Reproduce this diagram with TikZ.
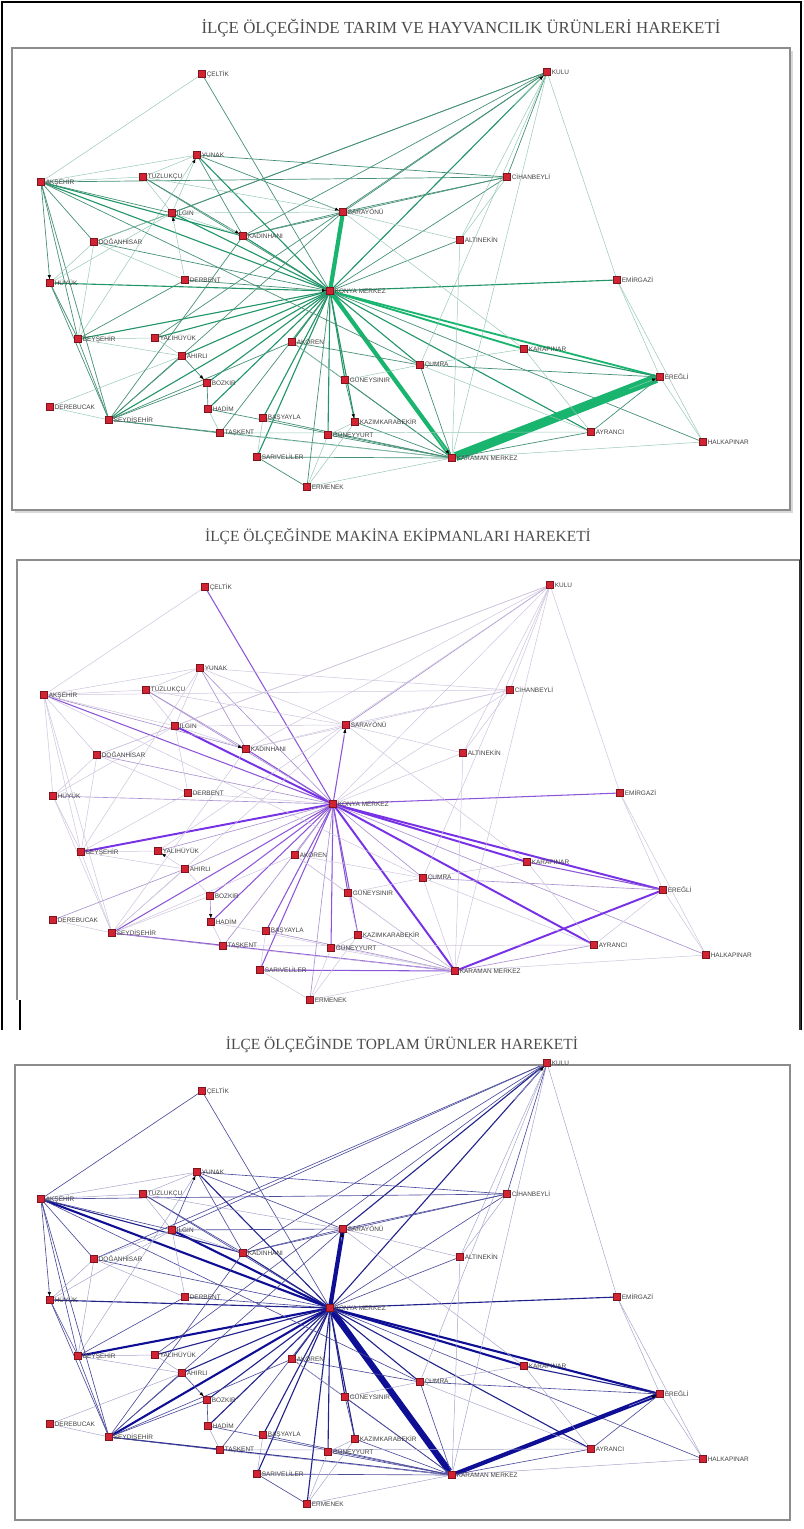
\documentclass[tikz,border=0pt]{standalone}
\usepackage{fontspec}
\setmainfont{Liberation Serif}
\setsansfont{Liberation Sans}
\usetikzlibrary{arrows.meta, calc}

\definecolor{nodered}{RGB}{210,35,50}
\definecolor{yesilA}{RGB}{150,200,182}
\definecolor{yesilB}{RGB}{70,145,118}
\definecolor{yesilC}{RGB}{35,150,105}
\definecolor{yesilD}{RGB}{25,180,110}
\definecolor{morA}{RGB}{205,195,220}
\definecolor{morB}{RGB}{170,145,208}
\definecolor{morC}{RGB}{140,85,215}
\definecolor{morD}{RGB}{120,50,230}
\definecolor{laciA}{RGB}{165,165,205}
\definecolor{laciB}{RGB}{75,75,155}
\definecolor{laciC}{RGB}{35,35,140}
\definecolor{laciD}{RGB}{15,15,150}

\pgfdeclarelayer{bg}
\pgfsetlayers{bg,main}

\def\kulukod{kulu}

% ilce kodu / x / y / ad (piksel, ust panel)
\newcommand{\ilceler}{%
celtik/202/74/ÇELTİK,
kulu/547/72/KULU,
yunak/197/155/YUNAK,
aksehir/41/182/AKŞEHİR,
tuzlukcu/143/177/TUZLUKÇU,
cihanbeyli/507/177/CİHANBEYLİ,
ilgin/172/213/ILGIN,
sarayonu/343/212/SARAYÖNÜ,
kadinhani/243/236/KADINHANI,
altinekin/460/240/ALTINEKİN,
doganhisar/94/242/DOĞANHİSAR,
derbent/185/280/DERBENT,
merkez/330/291/KONYA MERKEZ,
emirgazi/617/280/EMİRGAZİ,
huyuk/50/283/HÜYÜK,
beysehir/78/339/BEYŞEHİR,
yalihuyuk/155/338/YALIHÜYÜK,
ahirli/182/356/AHIRLI,
akoren/292/342/AKÖREN,
bozkir/207/383/BOZKIR,
hadim/208/409/HADİM,
guneysinir/345/380/GÜNEYSINIR,
derebucak/50/407/DEREBUCAK,
seydisehir/109/420/SEYDİŞEHİR,
basyayla/263/418/BAŞYAYLA,
taskent/220/433/TAŞKENT,
kazim/355/422/KAZIMKARABEKİR,
guneyyurt/328/435/GÜNEYYURT,
sariveliler/257/457/SARIVELİLER,
ermenek/307/487/ERMENEK,
karapinar/524/349/KARAPINAR,
cumra/420/365/ÇUMRA,
eregli/660/377/EREĞLİ,
ayranci/591/432/AYRANCI,
halkapinar/703/442/HALKAPINAR,
karaman/452/458/KARAMAN MERKEZ}

% kaynak / hedef / agirlik: tarim / makina / toplam
\newcommand{\baglar}{%
merkez/sarayonu/5/3/5, merkez/karaman/5/4/6, merkez/celtik/2/3/2,
merkez/kulu/3/1/3, merkez/yunak/3/2/3, merkez/aksehir/3/3/4,
merkez/tuzlukcu/2/2/2, merkez/ilgin/3/4/4, merkez/kadinhani/3/3/3,
merkez/cihanbeyli/2/1/2, merkez/altinekin/2/1/2, merkez/doganhisar/2/2/2,
merkez/derbent/2/1/2, merkez/huyuk/3/2/3, merkez/beysehir/3/4/4,
merkez/yalihuyuk/3/2/3, merkez/ahirli/3/2/3, merkez/bozkir/3/3/3,
merkez/akoren/3/2/3, merkez/seydisehir/3/3/4, merkez/taskent/2/2/2,
merkez/basyayla/3/3/3, merkez/sariveliler/3/3/3, merkez/ermenek/2/2/3,
merkez/hadim/3/3/3, merkez/guneysinir/3/3/3, merkez/kazim/3/3/3,
merkez/guneyyurt/3/3/3, merkez/cumra/3/2/3, merkez/karapinar/4/4/4,
merkez/eregli/4/4/4, merkez/ayranci/3/4/3, merkez/emirgazi/3/3/3,
merkez/halkapinar/2/2/2,
karaman/eregli/6/4/5, karaman/ayranci/2/2/2, karaman/halkapinar/1/1/1,
karaman/cumra/2/1/2, karaman/kazim/2/2/2, karaman/guneysinir/2/1/2,
karaman/ermenek/1/1/1, karaman/sariveliler/2/3/2, karaman/basyayla/2/2/2,
karaman/seydisehir/2/3/3, karaman/taskent/1/1/1, karaman/hadim/2/1/2,
karaman/akoren/2/1/2, karaman/kulu/1/1/1, karaman/guneyyurt/2/1/2,
karaman/altinekin/1/1/1,
eregli/karapinar/3/3/3, eregli/cumra/2/2/2, eregli/ayranci/2/1/2,
eregli/halkapinar/1/1/1, eregli/emirgazi/1/1/1,
kulu/cihanbeyli/2/1/2, kulu/sarayonu/2/2/3, kulu/altinekin/1/1/1,
kulu/emirgazi/1/1/1, kulu/cumra/1/1/1, kulu/kadinhani/2/1/2,
kulu/ilgin/2/1/2, kulu/doganhisar/2/1/2, kulu/yalihuyuk/2/1/2,
celtik/aksehir/1/1/2,
yunak/aksehir/1/1/1, yunak/tuzlukcu/1/1/1, yunak/ilgin/1/1/2,
yunak/kadinhani/2/2/2, yunak/cihanbeyli/2/1/2, yunak/sarayonu/2/1/2,
yunak/beysehir/1/1/1,
aksehir/tuzlukcu/1/1/1, aksehir/huyuk/2/1/2, aksehir/doganhisar/2/1/2,
aksehir/beysehir/2/1/2, aksehir/seydisehir/2/1/2, aksehir/kadinhani/3/2/3,
aksehir/ilgin/2/1/2, aksehir/cihanbeyli/2/1/2, aksehir/cumra/2/1/2,
tuzlukcu/ilgin/1/1/1, tuzlukcu/kadinhani/2/2/2, tuzlukcu/sarayonu/1/1/1,
ilgin/kadinhani/1/1/1, ilgin/sarayonu/1/1/2, ilgin/derbent/1/1/1,
ilgin/huyuk/1/1/1, ilgin/doganhisar/1/1/1,
doganhisar/huyuk/1/1/1, doganhisar/beysehir/1/1/1, doganhisar/derbent/1/1/1,
huyuk/beysehir/2/1/2, huyuk/seydisehir/2/1/2,
beysehir/seydisehir/2/1/2, beysehir/derbent/2/1/2, beysehir/yalihuyuk/1/1/1,
beysehir/ahirli/1/1/1,
derebucak/seydisehir/1/1/1, derebucak/ahirli/1/2/1,
seydisehir/taskent/2/2/2, seydisehir/ahirli/2/1/2, seydisehir/bozkir/2/1/2,
seydisehir/akoren/2/1/2, seydisehir/sarayonu/2/1/2, seydisehir/kadinhani/2/1/2,
yalihuyuk/ahirli/1/1/1, ahirli/bozkir/2/1/2, bozkir/hadim/2/2/2,
taskent/hadim/1/1/1, taskent/ayranci/1/1/1,
basyayla/sariveliler/1/1/1, sariveliler/ermenek/2/1/2, ermenek/kazim/1/1/1,
ermenek/guneyyurt/1/1/1,
akoren/guneysinir/1/1/1, akoren/cumra/2/1/2, guneysinir/kazim/2/1/2,
guneysinir/cumra/1/1/1, kazim/guneyyurt/1/1/1,
cumra/karapinar/1/1/1, cumra/ayranci/1/1/1, karapinar/ayranci/1/1/1,
emirgazi/halkapinar/1/1/1,
cihanbeyli/altinekin/1/1/1, cihanbeyli/sarayonu/2/1/2, cihanbeyli/kadinhani/2/1/2,
altinekin/sarayonu/1/1/1, sarayonu/kadinhani/2/1/2, sarayonu/karapinar/1/1/1}

\begin{document}
\begin{tikzpicture}[x=0.025cm, y=-0.025cm,
    dot/.style={rectangle, draw=nodered!60!black, fill=nodered, minimum size=0.17cm, inner sep=0pt},
    lbl/.style={font=\sffamily\fontsize{4.6}{5}\selectfont, text=black!75, inner sep=0.6pt},
    baslik/.style={font=\fontsize{11}{13}\selectfont, text=black!70},
    cerceve/.style={draw=black!45, line width=0.9pt},
    a0/.style={draw=none}, b0/.style={draw=none}, c0/.style={draw=none},
    a1/.style={draw=yesilA, line width=0.35pt},
    a2/.style={draw=yesilB, line width=0.5pt},
    a3/.style={draw=yesilC, line width=0.8pt},
    a4/.style={draw=yesilD, line width=1.3pt},
    a5/.style={draw=yesilD, line width=3pt},
    a6/.style={draw=yesilD, line width=6.5pt},
    b1/.style={draw=morA, line width=0.35pt},
    b2/.style={draw=morB, line width=0.45pt},
    b3/.style={draw=morC, line width=0.75pt},
    b4/.style={draw=morD, line width=1.4pt},
    b5/.style={draw=morD, line width=2pt},
    b6/.style={draw=morD, line width=2.6pt},
    c1/.style={draw=laciA, line width=0.35pt},
    c2/.style={draw=laciB, line width=0.45pt},
    c3/.style={draw=laciC, line width=0.8pt},
    c4/.style={draw=laciD, line width=1.5pt},
    c5/.style={draw=laciD, line width=3pt},
    c6/.style={draw=laciD, line width=4.5pt},
    ucok/.style={-{Latex[black,length=3pt,width=2.4pt]}}]

    \useasboundingbox (0,0) rectangle (803,1529);

    % dis cerceve
    \draw[black, line width=1pt] (2,1030) -- (2,2) -- (801,2) -- (801,1030);

    % basliklar
    \node[baslik, font=\fontsize{12}{14}\selectfont] (t1) at (461,28) {İLÇE ÖLÇEĞİNDE TARIM VE HAYVANCILIK ÜRÜNLERİ HAREKETİ};
    \node[baslik] (t2) at (398,537) {İLÇE ÖLÇEĞİNDE MAKİNA EKİPMANLARI HAREKETİ};
    \node[baslik] (t3) at (402,1045) {İLÇE ÖLÇEĞİNDE TOPLAM ÜRÜNLER HAREKETİ};

    % panel kutulari
    \draw[black!15, line width=2pt] (15,512) -- (792,512) -- (792,51);
    \draw[cerceve] (12,48) rectangle (790,510);
    \draw[cerceve] (17,1000) -- (17,560) -- (800,560);
    \draw[black!80, line width=1.2pt] (800,560) -- (800,1030);
    \draw[black, line width=0.8pt] (20,1000) -- (20,1030);
    \draw[cerceve] (15,1065) rectangle (790,1520);

    % ilceler, her panel icin (alt panelde KULU biraz yukarida)
    \foreach \p/\dx/\dy/\ky in {a/0/0/0, b/3/513/0, c/0/1017/-26} {
        \foreach \n/\x/\y/\t in \ilceler {
            \edef\kod{\n}
            \ifx\kod\kulukod \def\ek{\ky}\else \def\ek{0}\fi
            \node[dot, label={[lbl, label distance=0pt]right:\t}] (\p\n) at (\x+\dx,\y+\dy+\ek) {};
        }
    }

    % akislar
    \begin{pgfonlayer}{bg}
    \foreach \u/\v/\wa/\wb/\wc in \baglar {
        \draw[a\wa] (a\u) -- (a\v);
        \draw[b\wb] (b\u) -- (b\v);
        \draw[c\wc] (c\u) -- (c\v);
    }
    \end{pgfonlayer}

    % ok uclari
    \foreach \p/\u/\v in {a/aksehir/huyuk, a/tuzlukcu/kadinhani, a/derbent/ilgin,
        a/ilgin/yunak, a/yunak/sarayonu, a/derbent/merkez, a/merkez/karaman,
        a/karaman/eregli, a/merkez/kulu, a/ahirli/bozkir, a/guneysinir/kazim,
        b/ahirli/yalihuyuk, b/bozkir/hadim, b/merkez/sarayonu, b/ilgin/kadinhani,
        c/merkez/kulu, c/merkez/sarayonu, c/karaman/eregli, c/ilgin/yunak,
        c/aksehir/huyuk, c/ahirli/bozkir} {
        \draw[\p1, ucok] ($(\p\u)!0.85!(\p\v)$) -- (\p\v);
    }

\end{tikzpicture}
\end{document}
